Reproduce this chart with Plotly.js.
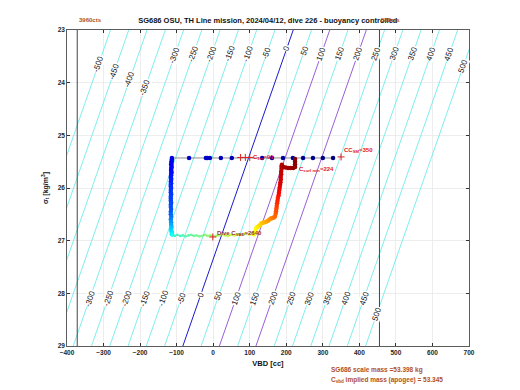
<!DOCTYPE html>
<html><head><meta charset="utf-8">
<script src="https://cdn.plot.ly/plotly-3.0.1.min.js"></script>
<style>html,body{margin:0;padding:0;background:#fff}#c{width:520px;height:390px}</style>
</head><body><div id="c"></div>
<script>
// ---- data ----
const vbdMin = -372, vbdMax = 455;
const cntMinLabel = "3960cts", cntMaxLabel = "588cts";
const levels = [-500,-450,-400,-350,-300,-250,-200,-150,-100,-50,0,50,100,150,200,250,300,350,400,450,500];
const lineOffset = 219;      // VBD of level 0 at sigma 23
const lineSlope = -50.33;    // cc per sigma unit
const topLabelSigma = [23.64,23.79,23.93,24.10,23.47,23.45,23.45,23.45,23.45,23.45,23.34,23.40,23.45,23.45,23.45,23.45,23.45,23.45,23.45,23.45,23.68];
const botLabelSigma = [null,null,null,null,28.09,28.09,28.09,28.09,28.09,28.09,28.02,28.05,28.09,28.09,28.09,28.09,28.09,28.09,28.09,28.09,28.40];

const surfVbd   = [328,300,273,246,218,191,161,134,51,21,-9,-16,-20,-66,-113];
const surfSigma = [25.43,25.43,25.43,25.43,25.43,25.43,25.43,25.43,25.43,25.43,25.43,25.43,25.43,25.43,25.43];
const surfTime  = [0,1,2,3,4,5,6,7,9,10,11,12,13,14,16];

const descVbd   = [-113,-114,-114,-115,-114,-114,-115,-115,-114,-115,-115,-116,-115,-115,-116,-115,-116,-116,-115,-116,-116,-115,-116,-116,-116,-115,-116,-116,-115,-116,-116,-115,-116,-115,-115,-114,-115,-114,-113,-113];
const descSigma = [25.46,25.49,25.52,25.55,25.58,25.61,25.64,25.67,25.70,25.73,25.76,25.79,25.82,25.85,25.88,25.91,25.94,25.97,26.00,26.04,26.08,26.12,26.16,26.20,26.24,26.28,26.32,26.36,26.40,26.45,26.50,26.55,26.60,26.65,26.70,26.74,26.78,26.82,26.85,26.88];
const descTime  = [18,19,19.5,20,21,21.5,22,23,23.5,24,25,25.5,26,27,27.5,28,29,29.5,30,31,31.5,32,33,33.5,34,35,35.5,36,37,38,40,43,46,49,52,55,58,61,64,67];

const botVbd   = [-112,-105,-98,-90,-83,-76,-68,-60,-53,-46,-38,-30,-22,-15,-8,0,8,16,24,32,40,48,57,66,75,85,96,106];
const botSigma = [26.90,26.91,26.89,26.91,26.90,26.92,26.90,26.89,26.91,26.90,26.92,26.91,26.89,26.91,26.90,26.92,26.91,26.90,26.88,26.90,26.91,26.89,26.90,26.88,26.89,26.87,26.88,26.89];
const botTime  = [74,76,78,79,80,82,83,84,86,87,88,90,91,92,94,95,96,98,99,100,101,102,103,104,105,106,107,109];

const ascVbd   = [112,114,116,118,121,125,129,132,136,140,145,150,154,158,162,166,169,171,172,173,174,175,176,177,179,180,181,182,183,184,185,185,186,186,187,187,188,192,198,205,212,219,224,224,224,224];
const ascSigma = [26.88,26.84,26.80,26.76,26.74,26.72,26.70,26.67,26.66,26.65,26.64,26.62,26.60,26.58,26.57,26.56,26.54,26.49,26.44,26.39,26.34,26.29,26.24,26.19,26.14,26.09,26.04,25.99,25.94,25.89,25.84,25.79,25.74,25.69,25.64,25.59,25.56,25.60,25.61,25.62,25.62,25.62,25.60,25.55,25.50,25.45];
const ascTime  = [110,111,112,113,115,117,119,121,123,125,127,129,131,133,135,137,139,141,143,145,147,149,151,153,155,157,159,161,163,164,165,166,167,168,169,170,171,172,173,174,175,176,177,178,179,180];

const markVbd   = [350, 75, 88, 100, -1];
const markSigma = [25.41, 25.42, 25.42, 25.42, 26.93];

// ---- drawing ----
const jet = [[0,'rgb(0,0,128)'],[0.125,'rgb(0,0,255)'],[0.375,'rgb(0,255,255)'],[0.625,'rgb(255,255,0)'],[0.875,'rgb(255,0,0)'],[1,'rgb(128,0,0)']];
const tMax = 180;
const FF = 'Liberation Sans, Arial, sans-serif';
const traces = [];
levels.forEach(L => {
  const col = L === 0 ? '#1a1acc' : (L === 100 || L === 200 ? '#9a5fd8' : '#5ee8e8');
  traces.push({x:[L+lineOffset, L+lineOffset+lineSlope*6], y:[23,29], mode:'lines',
    line:{color:col, width: (L===0||L===100||L===200)?1:0.8}, hoverinfo:'skip', showlegend:false});
});
const allV = surfVbd.concat(descVbd, botVbd, ascVbd);
const allS = surfSigma.concat(descSigma, botSigma, ascSigma);
traces.push({x:allV, y:allS, mode:'lines', line:{color:'#707070', width:0.8}, showlegend:false});
function seg(v,s,t,size){
  return {x:v, y:s, mode:'markers', showlegend:false,
    marker:{size:size, color:t, cmin:0, cmax:tMax, colorscale:jet, line:{width:0}}};
}
traces.push(seg(surfVbd,surfSigma,surfTime,4.5));
traces.push(seg(descVbd,descSigma,descTime,4.5));
traces.push(seg(botVbd,botSigma,botTime,2.8));
traces.push(seg(ascVbd,ascSigma,ascTime,4.5));
traces.push({x:markVbd, y:markSigma, mode:'markers', showlegend:false,
  marker:{symbol:'cross-thin', size:5, line:{color:'#e02020', width:1}}});

const ann = [];
const lblAngle = -70.7;
levels.forEach((L,i) => {
  [topLabelSigma[i], botLabelSigma[i]].forEach(s => {
    if (s === null) return;
    ann.push({x: L+lineOffset+lineSlope*(s-23), y:s, xref:'x', yref:'y', text:String(L),
      showarrow:false, textangle:lblAngle, bgcolor:'rgba(255,255,255,1)', borderpad:0,
      font:{family:FF, size:8, color:'#111'}});
  });
});
const red = '#e01818', brown = '#b0501e';
const sf = {family:FF, size:6, weight:'bold'};
ann.push({x:352, y:25.40, xref:'x', yref:'y', xanchor:'left', yanchor:'bottom', showarrow:false,
  text:'CC<sub>SM</sub>=350', font:Object.assign({}, sf, {color:red})});
ann.push({x:230, y:25.65, xref:'x', yref:'y', xanchor:'left', yanchor:'middle', showarrow:false,
  text:'C<sub>surf min</sub>=224', font:Object.assign({}, sf, {color:red})});
ann.push({x:104, y:25.43, xref:'x', yref:'y', xanchor:'left', yanchor:'middle', showarrow:false,
  text:'C<sub>1m</sub>=91', font:Object.assign({}, sf, {color:red})});
ann.push({x:4, y:26.87, xref:'x', yref:'y', xanchor:'left', yanchor:'middle', showarrow:false,
  text:'Dive C<sub>VBD</sub>=2640', font:Object.assign({}, sf, {color:'#993030'})});
ann.push({x:vbdMin, y:1.032, xref:'x', yref:'paper', xanchor:'left', yanchor:'middle', showarrow:false,
  text:cntMinLabel, font:Object.assign({}, sf, {color:brown})});
ann.push({x:vbdMax, y:1.032, xref:'x', yref:'paper', xanchor:'left', yanchor:'middle', showarrow:false,
  text:cntMaxLabel, font:Object.assign({}, sf, {color:brown})});
ann.push({x:0.652, y:-0.076, xref:'paper', yref:'paper', xanchor:'left', yanchor:'middle', showarrow:false,
  text:'SG686 scale mass =53.398 kg', font:{family:FF, size:6.5, weight:'bold', color:brown}});
ann.push({x:0.652, y:-0.108, xref:'paper', yref:'paper', xanchor:'left', yanchor:'middle', showarrow:false,
  text:'C<sub>vbd</sub> implied mass (apogee) = 53.345', font:{family:FF, size:6.5, weight:'bold', color:brown}});

const layout = {
  width:520, height:390, margin:{l:67, r:51, t:30, b:44},
  paper_bgcolor:'#fff', plot_bgcolor:'#fff',
  title:{text:'SG686 OSU, TH Line mission, 2024/04/12, dive 226 - buoyancy controlled',
    x:0.515, xanchor:'center', y:0.949, yanchor:'middle',
    font:{family:FF, size:7.5, weight:'bold', color:'#111'}},
  xaxis:{range:[-400,700], dtick:100, tick0:0, showgrid:true, gridcolor:'#e8e8e8', gridwidth:0.8,
    zeroline:false, showline:true, linecolor:'#333', linewidth:0.8, mirror:'ticks',
    ticks:'inside', ticklen:3, tickcolor:'#333',
    tickfont:{family:FF, size:6.5, weight:'bold', color:'#262626'},
    title:{text:'VBD [cc]', standoff:6, font:{family:FF, size:7.5, weight:'bold', color:'#111'}}},
  yaxis:{range:[29,23], dtick:1, showgrid:true, gridcolor:'#e8e8e8', gridwidth:0.8,
    zeroline:false, showline:true, linecolor:'#333', linewidth:0.8, mirror:'ticks',
    ticks:'inside', ticklen:3, tickcolor:'#333',
    tickfont:{family:FF, size:6.5, weight:'bold', color:'#262626'},
    title:{text:'σ<sub>t</sub> [kg/m<sup>3</sup>]', standoff:8, font:{family:FF, size:7, weight:'bold', color:'#111'}}},
  shapes:[
    {type:'line', xref:'x', yref:'paper', x0:vbdMin, x1:vbdMin, y0:0, y1:1, line:{color:'#444', width:1}},
    {type:'line', xref:'x', yref:'paper', x0:vbdMax, x1:vbdMax, y0:0, y1:1, line:{color:'#444', width:1}}
  ],
  annotations:ann, showlegend:false
};
Plotly.newPlot('c', traces, layout, {displayModeBar:false, staticPlot:true});
</script></body></html>
